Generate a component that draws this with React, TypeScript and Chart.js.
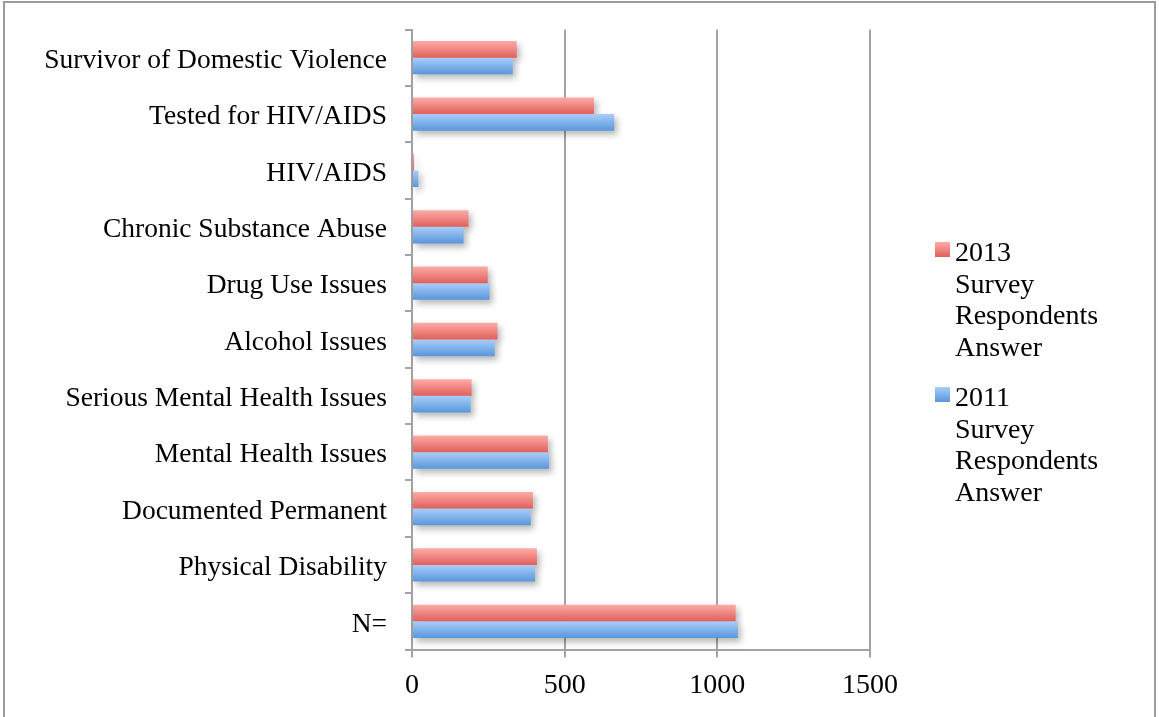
import React, { useEffect, useRef } from 'react';
import { Chart, registerables } from 'chart.js';

Chart.register(...registerables);

const categories = [
  'Survivor of Domestic Violence',
  'Tested for HIV/AIDS',
  'HIV/AIDS',
  'Chronic Substance Abuse',
  'Drug Use Issues',
  'Alcohol Issues',
  'Serious Mental Health Issues',
  'Mental Health Issues',
  'Documented Permanent',
  'Physical Disability',
  'N=',
];
const values2013 = [343, 596, 7, 185, 248, 280, 195, 445, 396, 409, 1060];
const values2011 = [330, 662, 21, 169, 254, 271, 192, 449, 389, 403, 1067];
const xTickValues = [0, 500, 1000, 1500];
const seriesNames = [
  ['2013', 'Survey', 'Respondents', 'Answer'],
  ['2011', 'Survey', 'Respondents', 'Answer'],
];

const FONT = "'Liberation Serif', 'Times New Roman', serif";
const GRID = '#a3a3a3';
const GRADS = [
  ['#ffaba8', '#e0605a'],
  ['#a9cefb', '#5897dc'],
];

const barStylePlugin = {
  id: 'barStyle',
  beforeDatasetsDraw(chart: any) {
    const ctx = chart.ctx;
    ctx.save();
    ctx.fillStyle = 'rgba(0,0,0,0.28)';
    ctx.filter = 'blur(3px)';
    chart.data.datasets.forEach((_: any, di: number) => {
      const meta = chart.getDatasetMeta(di);
      meta.data.forEach((el: any) => {
        const { x, y, base, height } = el.getProps(['x', 'y', 'base', 'height'], true);
        const left = Math.min(x, base);
        const w = Math.abs(x - base);
        ctx.fillRect(left + 3, y - height / 2 + 4, w, height);
      });
    });
    ctx.restore();
    chart.data.datasets.forEach((_: any, di: number) => {
      const meta = chart.getDatasetMeta(di);
      meta.data.forEach((el: any) => {
        const { y, height } = el.getProps(['y', 'height'], true);
        const g = ctx.createLinearGradient(0, y - height / 2, 0, y + height / 2);
        g.addColorStop(0, GRADS[di][0]);
        g.addColorStop(1, GRADS[di][1]);
        el.options = { ...el.options, backgroundColor: g };
      });
    });
  },
};

const legendPlugin = {
  id: 'customLegend',
  afterDraw(chart: any) {
    const ctx = chart.ctx;
    ctx.save();
    ctx.font = `28px ${FONT}`;
    ctx.fillStyle = '#000';
    ctx.textBaseline = 'alphabetic';
    ctx.textAlign = 'left';
    const boxX = 935;
    const textX = 955;
    const lineH = 31.7;
    const firstBaselines = [261, 406];
    seriesNames.forEach((lines, i) => {
      const b = firstBaselines[i];
      const g = ctx.createLinearGradient(0, b - 19, 0, b - 4);
      g.addColorStop(0, GRADS[i][0]);
      g.addColorStop(1, GRADS[i][1]);
      ctx.fillStyle = g;
      ctx.fillRect(boxX, b - 19, 15, 15);
      ctx.fillStyle = '#000';
      lines.forEach((t, j) => ctx.fillText(t, textX, b + j * lineH));
    });
    ctx.restore();
  },
};

export default function App() {
  const ref = useRef<HTMLCanvasElement>(null);
  useEffect(() => {
    if (!ref.current) return;
    const chart = new Chart(ref.current, {
      type: 'bar',
      data: {
        labels: categories,
        datasets: [
          { label: seriesNames[0].join(' '), data: values2013, backgroundColor: GRADS[0][1], borderWidth: 0 },
          { label: seriesNames[1].join(' '), data: values2011, backgroundColor: GRADS[1][1], borderWidth: 0 },
        ],
      },
      options: {
        indexAxis: 'y',
        animation: false,
        responsive: true,
        maintainAspectRatio: false,
        datasets: { bar: { categoryPercentage: 0.59, barPercentage: 1 } },
        layout: { padding: { top: 29.5, right: 289, bottom: 0, left: 0 } },
        plugins: { legend: { display: false }, tooltip: { enabled: false } },
        scales: {
          x: {
            min: 0,
            max: 1500,
            afterBuildTicks(scale: any) {
              scale.ticks = xTickValues.map((v) => ({ value: v }));
            },
            afterFit(scale: any) {
              scale.height = 67.5;
            },
            grid: { color: GRID, lineWidth: 2, tickLength: 8, drawTicks: true },
            border: { display: true, color: GRID, width: 2 },
            ticks: {
              color: '#000',
              font: { family: FONT, size: 28 },
              padding: 11,
              maxRotation: 0,
              callback: (v: any) => String(v),
            },
          },
          y: {
            afterFit(scale: any) {
              scale.width = 412;
              scale.paddingTop = 0;
              scale.paddingBottom = 0;
            },
            grid: { drawOnChartArea: false, drawTicks: true, tickLength: 7, color: GRID, lineWidth: 2, offset: true },
            border: { display: true, color: GRID, width: 2 },
            ticks: { color: '#000', font: { family: FONT, size: 27.5 }, padding: 18, autoSkip: false, labelOffset: 3 },
          },
        },
      },
      plugins: [barStylePlugin, legendPlugin],
    });
    return () => chart.destroy();
  }, []);

  return (
    <div style={{ position: 'absolute', left: 0, top: 0, width: 1159, height: 717, overflow: 'hidden', background: '#fff' }}>
      <div style={{ position: 'absolute', left: 0, top: 0, width: 1159, height: 717 }}>
        <canvas ref={ref} />
      </div>
      <div
        style={{
          position: 'absolute',
          left: 3,
          top: 1,
          width: 1153,
          height: 800,
          border: `2px solid #9c9c9c`,
          boxSizing: 'border-box',
          pointerEvents: 'none',
        }}
      />
    </div>
  );
}
